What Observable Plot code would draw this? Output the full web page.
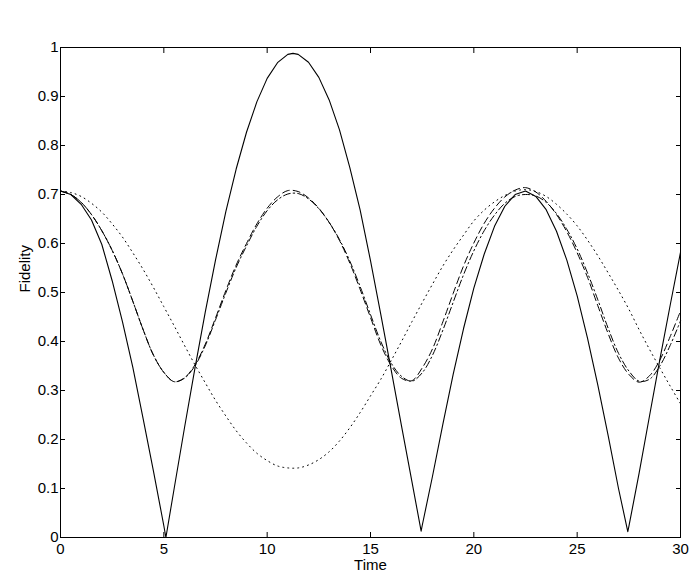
<!DOCTYPE html>
<html><head><meta charset="utf-8">
<script src="https://cdn.jsdelivr.net/npm/d3@7"></script>
<script src="https://cdn.jsdelivr.net/npm/@observablehq/plot@0.6"></script>
<style>body{margin:0;background:#fff}</style>
</head><body><div id="chart"></div>
<script>
const xTicks = [0, 5, 10, 15, 20, 25, 30];
const yTicks = [0, 0.1, 0.2, 0.3, 0.4, 0.5, 0.6, 0.7, 0.8, 0.9, 1];

const timeGrid = [0,0.5,1,1.5,2,2.5,3,3.5,4,4.5,5,5.5,6,6.5,7,7.5,8,8.5,9,9.5,10,10.5,11,11.5,12,12.5,13,13.5,14,14.5,15,15.5,16,16.5,17,17.5,18,18.5,19,19.5,20,20.5,21,21.5,22,22.5,23,23.5,24,24.5,25,25.5,26,26.5,27,27.5,28,28.5,29,29.5,30];

const dottedFidelity = [0.707,0.704,0.696,0.682,0.664,0.640,0.613,0.581,0.547,0.510,0.471,0.432,0.392,0.353,0.316,0.280,0.248,0.218,0.193,0.172,0.157,0.146,0.142,0.142,0.148,0.159,0.175,0.197,0.224,0.255,0.289,0.323,0.361,0.400,0.440,0.479,0.517,0.554,0.587,0.617,0.646,0.668,0.685,0.698,0.707,0.710,0.706,0.696,0.680,0.660,0.636,0.607,0.575,0.540,0.504,0.466,0.424,0.384,0.346,0.309,0.273];

const dashedFidelity = [0.707,0.700,0.684,0.659,0.626,0.586,0.538,0.482,0.424,0.372,0.337,0.318,0.326,0.352,0.394,0.448,0.504,0.556,0.600,0.640,0.672,0.695,0.708,0.706,0.693,0.672,0.643,0.606,0.560,0.506,0.449,0.393,0.351,0.325,0.320,0.346,0.385,0.440,0.498,0.554,0.601,0.641,0.672,0.695,0.709,0.714,0.705,0.686,0.659,0.624,0.581,0.531,0.473,0.416,0.366,0.333,0.317,0.330,0.362,0.410,0.462];

const dashDotFidelity = [0.707,0.700,0.684,0.659,0.626,0.586,0.538,0.482,0.424,0.372,0.337,0.318,0.325,0.350,0.391,0.444,0.499,0.551,0.595,0.635,0.667,0.689,0.701,0.702,0.691,0.671,0.643,0.608,0.564,0.512,0.455,0.400,0.356,0.329,0.319,0.336,0.372,0.423,0.480,0.536,0.585,0.626,0.658,0.682,0.696,0.700,0.697,0.684,0.661,0.629,0.589,0.540,0.485,0.427,0.376,0.340,0.319,0.323,0.350,0.392,0.442];

const solidTime = [0,0.5,1,1.5,2,2.5,3,3.5,4,4.5,5,5.1,5.5,6,6.5,7,7.5,8,8.5,9,9.5,10,10.5,11,11.25,11.5,12,12.5,13,13.5,14,14.5,15,15.5,16,16.5,17,17.45,17.5,18,18.5,19,19.5,20,20.5,21,21.5,22,22.5,23,23.5,24,24.5,25,25.5,26,26.5,27,27.45,27.5,28,28.5,29,29.5,30];
const solidFidelity = [0.707,0.700,0.680,0.648,0.598,0.524,0.440,0.347,0.242,0.135,0.024,0.0,0.100,0.224,0.344,0.459,0.566,0.665,0.752,0.827,0.889,0.937,0.969,0.986,0.988,0.986,0.970,0.939,0.893,0.832,0.755,0.668,0.565,0.455,0.342,0.228,0.115,0.013,0.024,0.125,0.231,0.333,0.426,0.509,0.578,0.635,0.676,0.700,0.707,0.696,0.669,0.625,0.566,0.493,0.407,0.311,0.208,0.100,0.012,0.022,0.132,0.248,0.363,0.474,0.582];

const rows = (ts, fs) => ts.map((t, i) => ({t, f: fs[i]}));
const dottedRows = rows(timeGrid, dottedFidelity);
const dashedRows = rows(timeGrid, dashedFidelity);
const dashDotRows = rows(timeGrid, dashDotFidelity);
const solidRows = rows(solidTime, solidFidelity);

const chart = Plot.plot({
  width: 692, height: 574,
  marginLeft: 60, marginRight: 12, marginTop: 47, marginBottom: 37,
  style: {fontFamily: "'Liberation Sans', Arial, sans-serif", fontSize: "15px", background: "#fff", color: "#000"},
  x: {domain: [0, 30]},
  y: {domain: [0, 1]},
  marks: [
    Plot.line(dottedRows, {x: "t", y: "f", stroke: "#000", strokeWidth: 1, strokeDasharray: "1,4", curve: "catmull-rom"}),
    Plot.line(dashedRows, {x: "t", y: "f", stroke: "#000", strokeWidth: 1, strokeDasharray: "7,4", curve: "catmull-rom"}),
    Plot.line(dashDotRows, {x: "t", y: "f", stroke: "#000", strokeWidth: 1, strokeDasharray: "7,3,1.5,3", curve: "catmull-rom"}),
    Plot.line(solidRows, {x: "t", y: "f", stroke: "#000", strokeWidth: 1.1}),
    Plot.frame({stroke: "#000"}),
    Plot.axisX(xTicks, {anchor: "bottom", tickSize: -5, tickPadding: 11, tickFormat: d => `${d}`, label: null}),
    Plot.axisX(xTicks, {anchor: "top", tickSize: -5, fill: "none", label: null}),
    Plot.axisY(yTicks, {anchor: "left", tickSize: -5, tickPadding: 7, tickFormat: d => `${d}`, label: null}),
    Plot.axisY(yTicks, {anchor: "right", tickSize: -5, fill: "none", label: null}),
    Plot.text(["Time"], {text: d => d, frameAnchor: "bottom", dy: 28, lineAnchor: "middle", fontSize: 15}),
    Plot.text(["Fidelity"], {text: d => d, frameAnchor: "left", dx: -35, rotate: -90, lineAnchor: "middle", fontSize: 15})
  ]
});
document.getElementById("chart").appendChild(chart);
</script>
</body></html>
